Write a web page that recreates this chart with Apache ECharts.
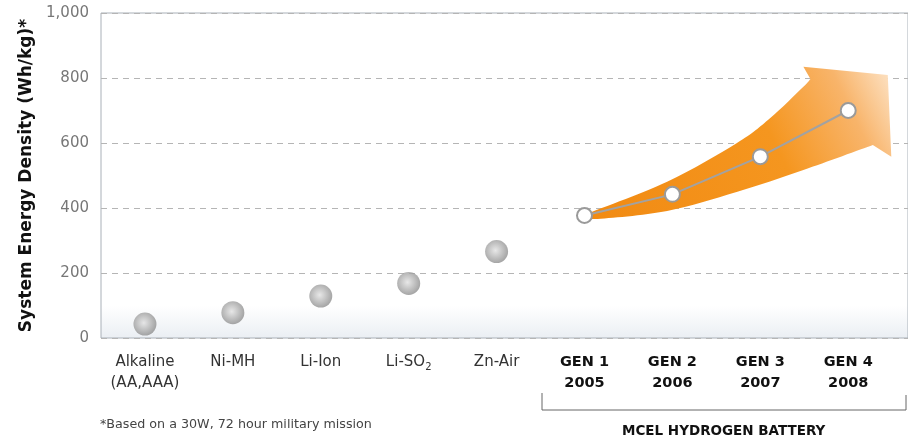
<!DOCTYPE html>
<html>
<head>
<meta charset="utf-8">
<script src="https://cdn.jsdelivr.net/npm/echarts@6/dist/echarts.min.js"></script>
<style>
  html, body { margin: 0; padding: 0; background: #fff; }
  #chart { width: 908px; height: 441px; }
</style>
</head>
<body>
<div id="chart"></div>
<script>
// energy density by battery chemistry, MCEL generations as a rising arrow

const categories = ['Alkaline\n(AA,AAA)', 'Ni-MH', 'Li-Ion', 'Li-SO2', 'Zn-Air',
  'GEN 1\n2005', 'GEN 2\n2006', 'GEN 3\n2007', 'GEN 4\n2008'];
const batteryIdx = [0, 1, 2, 3, 4];
const batteryValues = [43, 78, 129, 168, 266];
const mcelIdx = [5, 6, 7, 8];
const mcelValues = [377, 442, 558, 700];
const yTicks = [0, 200, 400, 600, 800, 1000];

// arrow outline in [category index, Wh/kg]
const arrowUpper = [[4.956, 375], [5.94, 481], [6.73, 599], [7.11, 676], [7.49, 773], [7.57, 797]];
const arrowHead = [[7.49, 835], [8.45, 809], [8.49, 558]];
const arrowLower = [[8.28, 594], [7.49, 517], [6.73, 449], [5.94, 391], [5.115, 366], [4.956, 375]];

const chart = echarts.init(document.getElementById('chart'));

const FONT = '"DejaVu Sans", sans-serif';

// catmull-rom through the points, as cubic bezier path commands
function smoothPath(pts) {
  let d = '';
  for (let i = 0; i < pts.length - 1; i++) {
    const p0 = pts[i - 1] || pts[i];
    const p1 = pts[i];
    const p2 = pts[i + 1];
    const p3 = pts[i + 2] || p2;
    const c1 = [p1[0] + (p2[0] - p0[0]) / 6, p1[1] + (p2[1] - p0[1]) / 6];
    const c2 = [p2[0] - (p3[0] - p1[0]) / 6, p2[1] - (p3[1] - p1[1]) / 6];
    d += ' C' + c1.join(' ') + ' ' + c2.join(' ') + ' ' + p2.join(' ');
  }
  return d;
}

function renderArrow(params, api) {
  const up = arrowUpper.map(v => api.coord(v));
  const head = arrowHead.map(v => api.coord(v));
  const low = arrowLower.map(v => api.coord(v));
  let d = 'M' + up[0].join(' ') + smoothPath(up);
  head.forEach(p => { d += ' L' + p.join(' '); });
  d += ' L' + low[0].join(' ') + smoothPath(low) + ' Z';
  return {
    type: 'path',
    shape: { pathData: d },
    style: {
      fill: new echarts.graphic.LinearGradient(0, 1, 1, 0, [
        { offset: 0, color: '#f18a12' },
        { offset: 0.6, color: '#f5961f' },
        { offset: 0.84, color: '#f8b46a' },
        { offset: 1, color: '#fde5ca' }
      ])
    }
  };
}

const option = {
  animation: false,
  grid: {
    left: 101,
    right: -4,
    top: 13,
    bottom: 103,
    show: true,
    borderColor: '#a9b0b8',
    borderWidth: 1,
    backgroundColor: new echarts.graphic.LinearGradient(0, 0, 0, 1, [
      { offset: 0, color: '#ffffff' },
      { offset: 0.9, color: '#ffffff' },
      { offset: 1, color: '#eaeef3' }
    ])
  },
  xAxis: {
    type: 'value',
    min: -0.5,
    max: 8.68,
    axisLine: { show: false },
    axisTick: { show: false },
    splitLine: { show: false },
    axisLabel: {
      customValues: categories.map((c, i) => i),
      margin: 14,
      fontFamily: FONT,
      fontSize: 15,
      lineHeight: 21,
      color: '#333',
      formatter: function (v) {
        const c = categories[Math.round(v)];
        if (!c) return '';
        if (c.indexOf('GEN') === 0) {
          return c.split('\n').map(s => '{b|' + s + '}').join('\n');
        }
        if (c === 'Li-SO2') return '{n|Li-SO}{sub|2}';
        return c;
      },
      rich: {
        b: { fontFamily: FONT, fontSize: 14.5, fontWeight: 'bold', color: '#111', lineHeight: 21 },
        n: { fontFamily: FONT, fontSize: 15, color: '#333', lineHeight: 21 },
        sub: { fontFamily: FONT, fontSize: 10, color: '#333', lineHeight: 21, padding: [9, 0, 0, 0] }
      }
    }
  },
  yAxis: {
    type: 'value',
    min: 0,
    max: 1000,
    interval: 200,
    name: 'System Energy Density (Wh/kg)*',
    nameLocation: 'middle',
    nameGap: 53,
    nameTextStyle: { fontFamily: FONT, fontSize: 17, fontWeight: 'bold', color: '#111' },
    axisLine: { show: false },
    axisTick: { show: false },
    axisLabel: {
      margin: 12,
      fontFamily: FONT,
      fontSize: 15,
      color: '#777',
      formatter: v => yTicks.indexOf(v) >= 0 ? v.toLocaleString('en-US') : ''
    },
    splitLine: { lineStyle: { color: '#b5b5b5', type: [6, 5], width: 1 } }
  },
  series: [
    {
      type: 'custom',
      silent: true,
      z: 1,
      clip: false,
      renderItem: renderArrow,
      data: [[0, 0]]
    },
    {
      type: 'line',
      z: 3,
      data: mcelIdx.map((x, i) => [x, mcelValues[i]]),
      symbol: 'circle',
      symbolSize: 15,
      lineStyle: { color: '#a2a2a2', width: 2 },
      itemStyle: { color: '#ffffff', borderColor: '#9a9a9a', borderWidth: 2 }
    },
    {
      type: 'scatter',
      z: 3,
      data: batteryIdx.map((x, i) => [x, batteryValues[i]]),
      symbolSize: 23,
      itemStyle: {
        color: new echarts.graphic.RadialGradient(0.45, 0.45, 0.6, [
          { offset: 0, color: '#e2e2e2' },
          { offset: 0.55, color: '#b0b0b0' },
          { offset: 1, color: '#888888' }
        ])
      }
    }
  ],
  graphic: [
    {
      type: 'polyline',
      silent: true,
      shape: { points: [[542, 393], [542, 410], [906, 410], [906, 395]] },
      style: { stroke: '#666', lineWidth: 1, fill: null }
    },
    {
      type: 'text',
      left: 722 - 100,
      top: 424,
      style: {
        text: 'MCEL HYDROGEN BATTERY',
        width: 200,
        align: 'center',
        x: 100,
        fontFamily: FONT,
        fontSize: 13.5,
        fontWeight: 'bold',
        fill: '#111'
      }
    },
    {
      type: 'text',
      left: 100,
      top: 418,
      style: {
        text: '*Based on a 30W, 72 hour military mission',
        fontFamily: FONT,
        fontSize: 12.7,
        fill: '#444'
      }
    }
  ]
};

chart.setOption(option);
</script>
</body>
</html>
